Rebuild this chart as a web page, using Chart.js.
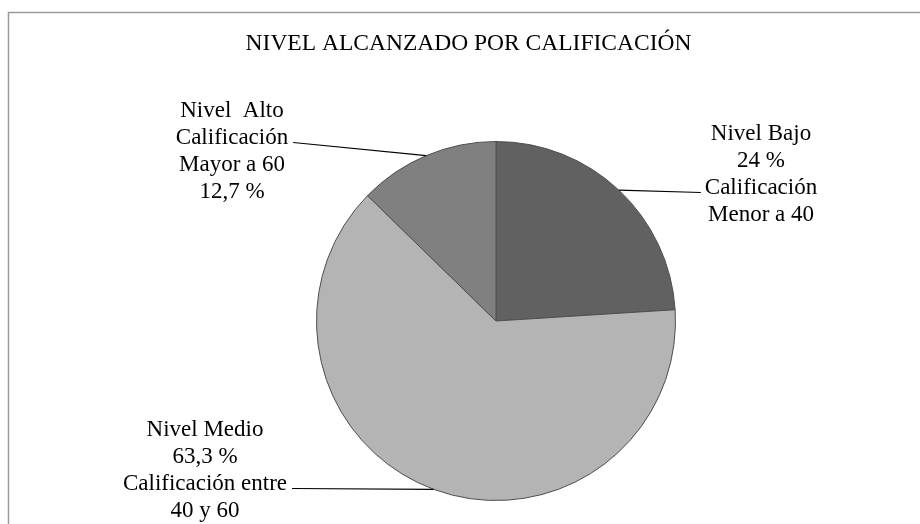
<!DOCTYPE html>
<html>
<head>
<meta charset="utf-8">
<title>Nivel alcanzado por calificación</title>
<script src="https://cdn.jsdelivr.net/npm/chart.js@4/dist/chart.umd.min.js"></script>
<style>
   html, body { margin: 0; padding: 0; background: #fff; }
   #wrap { width: 920px; height: 524px; }
</style>
</head>
<body>
<div id="wrap"><canvas id="chartNivel" width="920" height="524"></canvas></div>
<script>
// Datos
const chartTitle = 'NIVEL ALCANZADO POR CALIFICACIÓN'
const categories = ['Nivel Bajo', 'Nivel Medio', 'Nivel  Alto']
const percentages = [24, 63.3, 12.7]
const rangeLines = [
   ['Calificación', 'Menor a 40'],
   ['Calificación entre', '40 y 60'],
   ['Calificación', 'Mayor a 60']
]
const sliceColors = ['#616161', '#b4b4b4', '#808080']

// order of the text lines in each label, and where the label sits from the pie centre
const labelOrder = [
   ['name', 'pct', 'r0', 'r1'],
   ['name', 'pct', 'r0', 'r1'],
   ['name', 'r0', 'r1', 'pct']
]
const labelPos = [
   { dx: 265, dy: -181.5, link: 2 },
   { dx: -291, dy: 114.5, link: 2 },
   { dx: -264, dy: -204.5, link: 1 }
]
const textFont = '23px "Liberation Serif"'
const titleFont = '23.5px "Liberation Serif"'
const lineGap = 27

const fmtPct = (v) => String(v).replace('.', ',') + ' %'

const labelLines = (i) => labelOrder[i].map(function (key) {
   if (key == 'name') return categories[i]
   if (key == 'pct') return fmtPct(percentages[i])
   return rangeLines[i][key == 'r0' ? 0 : 1]
})

// frame + title
const framePlugin = {
   id: 'frame',
   beforeDraw(chart) {
      const ctx = chart.ctx
      ctx.save()
      ctx.strokeStyle = '#9a9a9a'
      ctx.lineWidth = 1.5
      ctx.beginPath()
      ctx.moveTo(8.5, chart.height + 2)
      ctx.lineTo(8.5, 12.5)
      ctx.lineTo(chart.width + 2, 12.5)
      ctx.stroke()

      ctx.fillStyle = '#000'
      ctx.font = titleFont
      ctx.textAlign = 'center'
      ctx.textBaseline = 'alphabetic'
      ctx.fillText(chartTitle, 468.5, 50)
      ctx.restore()
   }
}

// labels with leader lines from the middle of each slice's arc
const sliceLabels = {
   id: 'sliceLabels',
   afterDatasetsDraw(chart) {
      const ctx = chart.ctx
      const meta = chart.getDatasetMeta(0)
      ctx.save()
      ctx.font = textFont
      ctx.fillStyle = '#000'
      ctx.strokeStyle = '#000'
      ctx.lineWidth = 1.2
      ctx.textAlign = 'center'
      ctx.textBaseline = 'alphabetic'

      meta.data.forEach(function (arc, i) {
         const p = arc.getProps(['x', 'y', 'startAngle', 'endAngle', 'outerRadius'], true)
         const mid = (p.startAngle + p.endAngle) / 2
         const ex = p.x + Math.cos(mid) * p.outerRadius
         const ey = p.y + Math.sin(mid) * p.outerRadius
         const lx = p.x + labelPos[i].dx
         const ly = p.y + labelPos[i].dy
         const lines = labelLines(i)

         lines.forEach(function (txt, k) {
            ctx.fillText(txt, lx, ly + k * lineGap)
         })

         const link = labelPos[i].link
         const w = ctx.measureText(lines[link]).width
         const ty = ly + link * lineGap - 1
         const tx = lx > ex ? lx - w / 2 - 4 : lx + w / 2 + 5
         ctx.beginPath()
         ctx.moveTo(ex, ey)
         ctx.lineTo(tx, ty)
         ctx.stroke()
      })
      ctx.restore()
   }
}

const ctx = document.getElementById('chartNivel')
const pieChart = new Chart(ctx, {
   type: 'pie',
   data: {
      labels: categories,
      datasets: [{
         data: percentages,
         backgroundColor: sliceColors,
         borderColor: '#4f4f4f',
         borderWidth: 1
      }]
   },
   options: {
      responsive: false,
      animation: false,
      layout: {
         padding: { top: 141, bottom: 23, left: 316, right: 244 }
      },
      plugins: {
         legend: { display: false },
         tooltip: { enabled: false },
         title: { display: false }
      }
   },
   plugins: [framePlugin, sliceLabels]
})
</script>
</body>
</html>
